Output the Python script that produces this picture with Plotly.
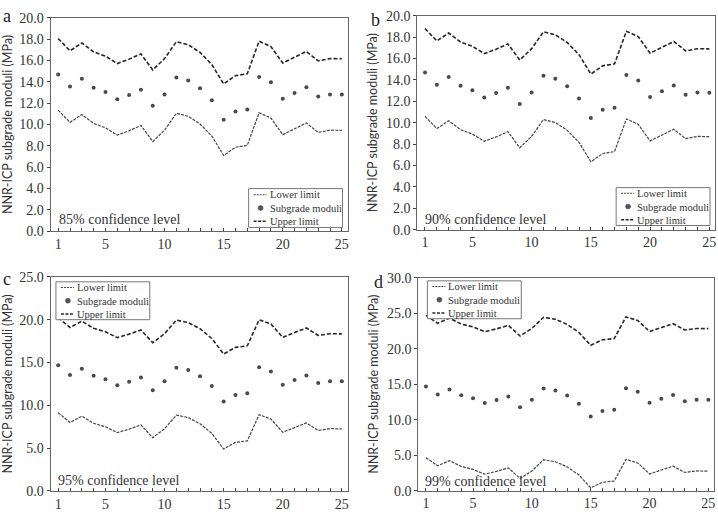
import plotly.graph_objects as go

W, H = 718, 519

x_vals = list(range(1, 26))
moduli = [14.69, 13.55, 14.28, 13.45, 13.04, 12.36, 12.77, 13.26, 11.76, 12.82,
          14.40, 14.12, 13.40, 12.26, 10.45, 11.22, 11.40, 14.45, 13.95, 12.40,
          12.95, 13.49, 12.61, 12.82, 12.80]

upper_85 = [18.04, 16.90, 17.63, 16.80, 16.39, 15.71, 16.12, 16.61, 15.11, 16.17,
            17.75, 17.47, 16.75, 15.61, 13.80, 14.57, 14.75, 17.80, 17.30, 15.75,
            16.30, 16.84, 15.96, 16.17, 16.15]
lower_85 = [11.34, 10.20, 10.93, 10.10, 9.69, 9.01, 9.42, 9.91, 8.41, 9.47,
            11.05, 10.77, 10.05, 8.91, 7.10, 7.87, 8.05, 11.10, 10.60, 9.05,
            9.60, 10.14, 9.26, 9.47, 9.45]
upper_90 = [18.79, 17.65, 18.38, 17.55, 17.14, 16.46, 16.87, 17.36, 15.86, 16.92,
            18.50, 18.22, 17.50, 16.36, 14.55, 15.32, 15.50, 18.55, 18.05, 16.50,
            17.05, 17.59, 16.71, 16.92, 16.90]
lower_90 = [10.59, 9.45, 10.18, 9.35, 8.94, 8.26, 8.67, 9.16, 7.66, 8.72,
            10.30, 10.02, 9.30, 8.16, 6.35, 7.12, 7.30, 10.35, 9.85, 8.30,
            8.85, 9.39, 8.51, 8.72, 8.70]
upper_95 = [20.24, 19.10, 19.83, 19.00, 18.59, 17.91, 18.32, 18.81, 17.31, 18.37,
            19.95, 19.67, 18.95, 17.81, 16.00, 16.77, 16.95, 20.00, 19.50, 17.95,
            18.50, 19.04, 18.16, 18.37, 18.35]
lower_95 = [9.14, 8.00, 8.73, 7.90, 7.49, 6.81, 7.22, 7.71, 6.21, 7.27,
            8.85, 8.57, 7.85, 6.71, 4.90, 5.67, 5.85, 8.90, 8.40, 6.85,
            7.40, 7.94, 7.06, 7.27, 7.25]
upper_99 = [24.74, 23.60, 24.33, 23.50, 23.09, 22.41, 22.82, 23.31, 21.81, 22.87,
            24.45, 24.17, 23.45, 22.31, 20.50, 21.27, 21.45, 24.50, 24.00, 22.45,
            23.00, 23.54, 22.66, 22.87, 22.85]
lower_99 = [4.64, 3.50, 4.23, 3.40, 2.99, 2.31, 2.72, 3.21, 1.71, 2.77,
            4.35, 4.07, 3.35, 2.21, 0.40, 1.17, 1.35, 4.40, 3.90, 2.35,
            2.90, 3.44, 2.56, 2.77, 2.75]

panel_letters = ["a", "b", "c", "d"]
conf_labels = ["85% confidence level", "90% confidence level",
               "95% confidence level", "99% confidence level"]
legend_labels = ["Lower limit", "Subgrade moduli", "Upper limit"]
y_title = "NNR-ICP subgrade moduli (MPa)"
x_tick_labels = {1: "1", 5: "5", 10: "10", 15: "15", 20: "20", 25: "25"}
y_max = [20, 20, 25, 30]
y_dtick = [2, 2, 5, 5]
uppers = [upper_85, upper_90, upper_95, upper_99]
lowers = [lower_85, lower_90, lower_95, lower_99]

# layout in pixels: (left, top, right, bottom)
boxes = [(50.7, 11, 348, 231), (418, 9, 716, 229.3),
         (50.7, 278, 348, 498.3), (419, 279, 715, 498)]
legend_boxes = [(249, 187, 343, 227), (617, 186, 711, 225),
                (56, 283, 150, 322), (428, 282, 522, 321)]
letter_pos = [(7, 9), (376, 13), (7, 280), (379, 283)]
conf_pos = [(57, 219), (423.7, 219), (55.7, 488), (423.7, 488.7)]

SERIF = "Liberation Serif"
SANS = "Lato"
INK = "#333333"
LEG_FONT = 10.5
LINE_H = LEG_FONT * 1.3


def px(x):
    return x / W


def py(y):
    return 1 - y / H


fig = go.Figure()
shapes = []
annotations = []

for i in range(4):
    xa = "x" if i == 0 else f"x{i+1}"
    ya = "y" if i == 0 else f"y{i+1}"
    fig.add_trace(go.Scatter(x=x_vals, y=lowers[i], mode="lines", xaxis=xa, yaxis=ya,
                             line=dict(color="#444444", width=1.2, dash="3px,1.2px"),
                             name=legend_labels[0], showlegend=False))
    fig.add_trace(go.Scatter(x=x_vals, y=moduli, mode="markers", xaxis=xa, yaxis=ya,
                             marker=dict(color="#4a4a4a", size=4),
                             name=legend_labels[1], showlegend=False))
    fig.add_trace(go.Scatter(x=x_vals, y=uppers[i], mode="lines", xaxis=xa, yaxis=ya,
                             line=dict(color="#262626", width=1.6, dash="4px,2px"),
                             name=legend_labels[2], showlegend=False))

    l, t, r, b = boxes[i]
    ticktext = [x_tick_labels.get(v, "") for v in x_vals]
    xkey = "xaxis" if i == 0 else f"xaxis{i+1}"
    ykey = "yaxis" if i == 0 else f"yaxis{i+1}"
    fig.layout[xkey] = dict(
        domain=[px(l), px(r)], anchor=ya, range=[0.36, 25.48],
        tickmode="array", tickvals=x_vals, ticktext=ticktext,
        ticks="inside", ticklen=3, tickcolor="#444", tickwidth=1,
        showline=True, linecolor="#666", linewidth=1, mirror=True,
        showgrid=False, zeroline=False,
        tickfont=dict(family=SERIF, size=14, color=INK))
    fig.layout[ykey] = dict(
        domain=[py(b), py(t)], anchor=xa, range=[0, y_max[i]],
        dtick=y_dtick[i], tick0=0, tickformat=".1f",
        ticks="outside", ticklen=3, tickcolor="#444", tickwidth=1,
        showline=True, linecolor="#666", linewidth=1, mirror=True,
        showgrid=False, zeroline=False,
        tickfont=dict(family=SERIF, size=14, color=INK),
        title=dict(text=y_title, font=dict(family=SANS, size=12.5, color=INK), standoff=5))

    # panel letter
    lx, ly = letter_pos[i]
    annotations.append(dict(x=px(lx), y=py(ly), xref="paper", yref="paper",
                            text=panel_letters[i], showarrow=False,
                            xanchor="center", yanchor="middle",
                            font=dict(family=SERIF, size=18, color="#222")))
    # confidence label
    cx, cy = conf_pos[i]
    annotations.append(dict(x=px(cx), y=py(cy), xref="paper", yref="paper",
                            text=conf_labels[i], showarrow=False,
                            xanchor="left", yanchor="middle",
                            font=dict(family=SERIF, size=14, color=INK)))

    # manual legend
    bl, bt, br, bb = legend_boxes[i]
    shapes.append(dict(type="rect", xref="paper", yref="paper",
                       x0=px(bl), x1=px(br), y0=py(bb), y1=py(bt),
                       line=dict(color="#777", width=1), fillcolor="white"))
    mid = (bt + bb) / 2
    rows = [mid - LINE_H, mid, mid + LINE_H]
    shapes.append(dict(type="line", xref="paper", yref="paper",
                       x0=px(bl + 5), x1=px(bl + 18), y0=py(rows[0]), y1=py(rows[0]),
                       line=dict(color="#444", width=1.1, dash="2px,1px")))
    shapes.append(dict(type="circle", xref="paper", yref="paper",
                       x0=px(bl + 9.5), x1=px(bl + 14.5), y0=py(rows[1] + 2.5), y1=py(rows[1] - 2.5),
                       line=dict(color="#333", width=0.5), fillcolor="#555"))
    shapes.append(dict(type="line", xref="paper", yref="paper",
                       x0=px(bl + 5), x1=px(bl + 18), y0=py(rows[2]), y1=py(rows[2]),
                       line=dict(color="#262626", width=1.6, dash="3px,1.5px")))
    annotations.append(dict(x=px(bl + 19), y=py(mid), xref="paper", yref="paper",
                            text="<br>".join(legend_labels), showarrow=False,
                            xanchor="left", yanchor="middle", align="left",
                            font=dict(family=SERIF, size=LEG_FONT, color=INK)))

fig.update_layout(
    width=W, height=H,
    margin=dict(l=0, r=0, t=0, b=0),
    paper_bgcolor="white", plot_bgcolor="white",
    showlegend=False,
    shapes=shapes, annotations=annotations,
)

fig.write_html("out.html")
